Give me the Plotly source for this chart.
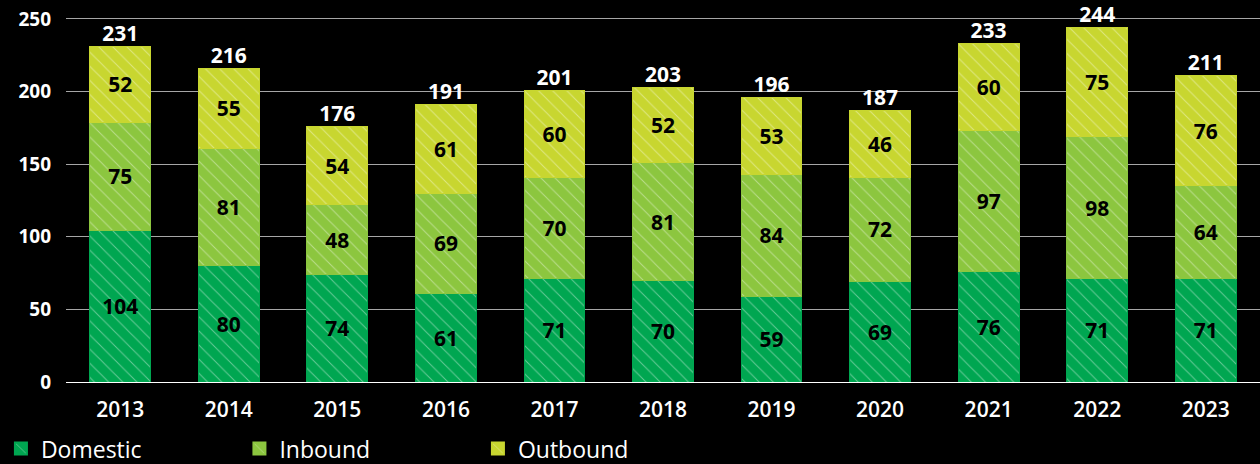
import plotly.graph_objects as go

years = ["2013", "2014", "2015", "2016", "2017", "2018", "2019", "2020", "2021", "2022", "2023"]
domestic = [104, 80, 74, 61, 71, 70, 59, 69, 76, 71, 71]
inbound = [75, 81, 48, 69, 70, 81, 84, 72, 97, 98, 64]
outbound = [52, 55, 54, 61, 60, 52, 53, 46, 60, 75, 76]
totals = [231, 216, 176, 191, 201, 203, 196, 187, 233, 244, 211]

series = [
    ("Domestic", domestic, "#00a651"),
    ("Inbound", inbound, "#8cc63f"),
    ("Outbound", outbound, "#c8d630"),
]

FONT = "Open Sans"
fig = go.Figure()
for name, vals, col in series:
    fig.add_trace(go.Bar(
        x=years, y=vals, name=name,
        marker=dict(color=col, line=dict(color=col, width=1),
                    pattern=dict(shape="\\", fgcolor="#ffffff", fgopacity=0.4,
                                 size=10, solidity=0.1, fillmode="overlay")),
        text=[str(v) for v in vals], textposition="inside",
        insidetextanchor="middle", constraintext="none",
        textfont=dict(family=FONT, size=21, color="#000000", weight="bold"),
        hoverinfo="skip",
    ))

fig.add_trace(go.Scatter(
    x=years, y=totals, mode="text", text=[str(t) for t in totals],
    textposition="top center", showlegend=False, cliponaxis=False,
    textfont=dict(family=FONT, size=21, color="#ffffff", weight="bold"),
    hoverinfo="skip",
))

fig.update_layout(
    width=1260, height=464,
    barmode="stack", bargap=0.44,
    paper_bgcolor="#000000", plot_bgcolor="#000000",
    margin=dict(l=66, r=0, t=0, b=82, autoexpand=False),
    uniformtext=dict(mode=False),
    font=dict(family=FONT, color="#ffffff"),
    xaxis=dict(range=[-0.5, len(years) - 0.5], showgrid=False, showline=False,
               ticks="", ticklabelstandoff=13,
               tickfont=dict(family=FONT, size=21, color="#ffffff", weight=600)),
    yaxis=dict(range=[0, 263], tickvals=[0, 50, 100, 150, 200, 250],
               showgrid=True, gridcolor="#a6a6a6", gridwidth=1,
               zeroline=True, zerolinecolor="#ffffff", zerolinewidth=1,
               ticks="", ticklabelstandoff=14,
               tickfont=dict(family=FONT, size=19, color="#ffffff", weight="bold")),
    legend=dict(orientation="h", x=-0.0545, xanchor="left", y=-0.118, yanchor="top",
                traceorder="normal",
                entrywidth=193.5, entrywidthmode="pixels",
                font=dict(family=FONT, size=23, color="#ffffff"),
                bgcolor="rgba(0,0,0,0)", itemsizing="constant"),
    showlegend=True,
)

fig.write_html("out.html")
